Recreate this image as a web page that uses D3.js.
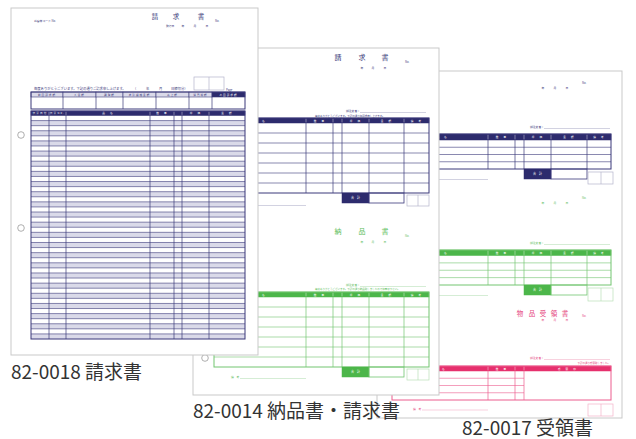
<!DOCTYPE html>
<html>
<head>
<meta charset="utf-8">
<script src="https://cdn.jsdelivr.net/npm/d3@7"></script>
<style>
  body { margin: 0; background: #fff; }
  svg { display: block; }
  text { font-family: "Noto Sans CJK JP", "Noto Sans", sans-serif; }
</style>
</head>
<body>
<div class="box"></div>
<script>
// contenu des formulaires
const labels = ['82-0018 請求書', '82-0014 納品書・請求書', '82-0017 受領書'];
const summaryHeads = ['前回請求額', '入金額', '調整額', '差引繰越金額', '売上額', '消費税額', '今回請求額'];
const detailHeads = ['伝票日付', '伝票No.', '品　名', '数　量', '', '単　価', '金　額'];
const slipHeads = ['品　名', '数　量', '', '単　価', '金　額', '備　考'];
const receiptHeads = ['品　名', '数　量', '', '受　領　印'];
const slipTitles = ['請求書', '納品書', '物品受領書'];
const slipMessages = [
  '毎度ありがとうございます。下記の通り御請求申し上げます。',
  '毎度ありがとうございます。下記の通り納品致しましたので御査収下さい。',
  '下記の通り受領致しました。'
];
const detailRows = 44;
const slipRows = 7;
const copyRows = 4;

const dims = {width: 636, height: 439};

const navy = {head: '#2d2b6d', line: '#3b397a', text: '#3b397a', soft: '#b4b4cc', light: '#dadae9'};
const green = {head: '#4cb64a', line: '#72c570', text: '#5dbd5b', soft: '#b9e0b8'};
const pink = {head: '#e6306d', line: '#ec5c8e', text: '#e5467d', soft: '#f3b3c9'};

const svg = d3.select('.box')
              .append('svg')
              .attr('width', dims.width)
              .attr('height', dims.height);

// petites fonctions de dessin
const txt = (g, x, y, s, size, fill, anchor = 'middle') =>
  g.append('text').attr('x', x).attr('y', y)
   .attr('font-size', size).attr('fill', fill)
   .attr('text-anchor', anchor).text(s);

const line = (g, x1, y1, x2, y2, stroke, w = 0.7) =>
  g.append('line').attr('x1', x1).attr('y1', y1).attr('x2', x2).attr('y2', y2)
   .attr('stroke', stroke).attr('stroke-width', w);

const box = (g, x, y, w, h, fill, stroke, sw = 0.7) =>
  g.append('rect').attr('x', x).attr('y', y).attr('width', w).attr('height', h)
   .attr('fill', fill).attr('stroke', stroke).attr('stroke-width', sw);

// grille d'un tableau
const grid = (g, edges, top, headH, bottom, rows, heads, c, opts = {}) => {
  const left = edges[0], right = edges[edges.length - 1];
  const y = d3.scaleLinear().domain([0, rows]).range([top + headH, bottom]);

  if (opts.shade) {
    g.selectAll(null).data(d3.range(rows).filter(i => i % 2 === 1)).enter()
     .append('rect')
     .attr('x', left).attr('width', right - left)
     .attr('y', d => y(d)).attr('height', d => y(d + 1) - y(d))
     .attr('fill', c.light);
  }

  box(g, left, top, right - left, headH, c.head, c.head, 0.5);

  g.selectAll(null).data(heads).enter()
   .append('text')
   .attr('x', (d, i) => (edges[i] + edges[i + 1]) / 2)
   .attr('y', top + headH / 2 + 1)
   .attr('font-size', 2.6)
   .attr('fill', '#fff')
   .attr('text-anchor', 'middle')
   .attr('letter-spacing', 1.2)
   .text(d => d);

  const rowEnd = opts.openLast ? edges[edges.length - 2] : right;
  g.selectAll(null).data(d3.range(1, rows)).enter()
   .append('line')
   .attr('x1', left).attr('x2', rowEnd)
   .attr('y1', d => y(d)).attr('y2', d => y(d))
   .attr('stroke', c.line).attr('stroke-width', 0.6);

  g.selectAll(null).data(edges.slice(1, -1)).enter()
   .append('line')
   .attr('x1', d => d).attr('x2', d => d)
   .attr('y1', top + headH).attr('y2', bottom)
   .attr('stroke', c.line).attr('stroke-width', 0.7);

  g.selectAll(null).data(edges.slice(1, -1)).enter()
   .append('line')
   .attr('x1', d => d).attr('x2', d => d)
   .attr('y1', top + 0.6).attr('y2', top + headH - 0.6)
   .attr('stroke', '#fff').attr('stroke-width', 0.4);

  box(g, left, top, right - left, bottom - top, 'none', c.line, 1);
};

// un bordereau (en-tête, tableau, total, cachets)
const slip = (g, o, c) => {
  if (o.title) {
    o.title.split('').forEach((ch, i) => txt(g, o.titleX[i], o.titleY, ch, o.titleSize, c.text));
  }
  txt(g, o.noX, o.noY, 'No.', 2.8, c.text, 'start');
  ['年', '月', '日'].forEach((ch, i) => txt(g, o.dateX[i], o.dateY, ch, 2.8, c.text));
  txt(g, o.ordX, o.ordY, '御注文者：', 2.8, c.text, 'start');
  line(g, o.ordX + 14, o.ordY + 0.5, o.ordEnd, o.ordY + 0.5, c.soft, 0.6);
  if (o.msg) txt(g, o.msgX, o.msgY, o.msg, 2.5, c.text, o.msgAnchor || 'start');

  grid(g, o.edges, o.top, o.headH, o.bottom, o.rows, o.heads, c, {openLast: o.openLast});

  if (o.total) {
    const e = o.edges;
    box(g, e[3], o.bottom, e[4] - e[3], 10, c.head, c.head, 0.5);
    txt(g, (e[3] + e[4]) / 2, o.bottom + 6, '合　計', 3, '#fff');
    box(g, e[4], o.bottom, e[5] - e[4], 10, 'none', c.line, 0.8);
  }

  const s = o.stamp;
  box(g, s[0], s[3], s[2] - s[0], s[4] - s[3], 'none', c.soft, 0.7);
  line(g, s[1], s[3], s[1], s[4], c.soft, 0.7);

  // le libellé "備考" est caché derrière la feuille du dessus pour certains
  if (!o.memoHidden) txt(g, o.memoX, o.memoY, '備　考', 2.8, c.text, 'start');
  line(g, o.memoX + 9, o.memoY + 0.5, o.edges[1], o.memoY + 0.5, c.soft, 0.6);
};

const page = (p) => {
  const g = svg.append('g');
  box(g, p.x, p.y, p.w, p.h, '#fff', '#c9c9c9', 1);
  return g;
};

const hole = (g, x, y) =>
  g.append('circle').attr('cx', x).attr('cy', y).attr('r', 3.3)
   .attr('fill', '#fff').attr('stroke', '#8d8d8d').attr('stroke-width', 0.7);

// ---- feuille 82-0017 (arrière)
const g3 = page({x: 377, y: 71, w: 245, h: 347});
const e3 = [396, 488, 515, 524, 551, 587, 611];

slip(g3, {
  noX: 582, noY: 84, dateX: [543, 555, 567], dateY: 89,
  ordX: 530, ordY: 128, ordEnd: 610,
  edges: e3, top: 134, headH: 6, bottom: 169, rows: copyRows, heads: slipHeads,
  total: true, stamp: [588, 601, 613, 172, 184],
  memoX: 413, memoY: 179, memoHidden: true
}, navy);

slip(g3, {
  noX: 582, noY: 199, dateX: [543, 555, 567], dateY: 204,
  ordX: 530, ordY: 244, ordEnd: 610,
  edges: e3, top: 250, headH: 5.5, bottom: 285, rows: copyRows, heads: slipHeads,
  total: true, stamp: [588, 601, 613, 288, 301],
  memoX: 413, memoY: 295, memoHidden: true
}, green);

slip(g3, {
  title: slipTitles[2], titleX: [520, 532, 543, 554, 565], titleY: 316, titleSize: 6.5,
  noX: 582, noY: 316.5, dateX: [543, 555, 567], dateY: 321,
  ordX: 530, ordY: 359, ordEnd: 610,
  msg: slipMessages[2], msgX: 610, msgY: 363.5, msgAnchor: 'end',
  edges: [392, 488, 515, 524, 611], top: 366, headH: 5, bottom: 400, rows: copyRows,
  heads: receiptHeads, openLast: true,
  total: false, stamp: [588, 601, 613, 404, 416],
  memoX: 413, memoY: 409.5
}, pink);

// ---- feuille 82-0014 (milieu)
const g2 = page({x: 193, y: 48, w: 246, h: 347});
const e2 = [214, 306, 333, 342, 369, 404, 429];

slip(g2, {
  title: slipTitles[0], titleX: [338, 362, 385], titleY: 60, titleSize: 7,
  noX: 405, noY: 63, dateX: [362, 373, 385], dateY: 69,
  ordX: 346, ordY: 112, ordEnd: 426,
  msg: slipMessages[0], msgX: 315, msgY: 116.5,
  edges: e2, top: 118, headH: 5, bottom: 193, rows: slipRows, heads: slipHeads,
  total: true, stamp: [407, 418, 429, 195, 206],
  memoX: 231, memoY: 205
}, navy);

slip(g2, {
  title: slipTitles[1], titleX: [338, 362, 385], titleY: 234, titleSize: 7,
  noX: 405, noY: 237, dateX: [362, 373, 385], dateY: 243,
  ordX: 346, ordY: 286, ordEnd: 426,
  msg: slipMessages[1], msgX: 315, msgY: 290.3,
  edges: e2, top: 292, headH: 5, bottom: 367, rows: slipRows, heads: slipHeads,
  total: true, stamp: [407, 418, 429, 369, 380],
  memoX: 231, memoY: 378
}, green);

hole(g2, 205, 264);
hole(g2, 205, 358);

// ---- feuille 82-0018 (avant)
const g1 = page({x: 11, y: 8, w: 247, h: 347});

txt(g1, 34, 22, 'お客様コード No.', 2.8, navy.text, 'start');
slipTitles[0].split('').forEach((ch, i) => txt(g1, [155, 176, 201][i], 18.5, ch, 6.5, navy.text));
txt(g1, 215, 22, 'No.', 2.8, navy.text, 'start');
txt(g1, 166, 27, '発行日', 2.8, navy.text, 'start');
['年', '月', '日'].forEach((ch, i) => txt(g1, [183, 195, 207][i], 27, ch, 2.8, navy.text));

box(g1, 194, 77, 30, 13, 'none', navy.soft, 0.7);
line(g1, 209, 77, 209, 90, navy.soft, 0.7);
txt(g1, 226, 91, 'Page', 2.8, navy.text, 'start');

txt(g1, 34, 90, '毎度ありがとうございます。下記の通りご請求申し上げます。', 3.3, navy.text, 'start');
txt(g1, 133, 90, '（', 3.3, navy.text, 'start');
txt(g1, 146, 90, '年', 3.3, navy.text, 'start');
txt(g1, 159, 90, '月', 3.3, navy.text, 'start');
txt(g1, 171, 90, '日締切分）', 3.3, navy.text, 'start');

// tableau récapitulatif
const eS = [31, 63, 96, 123, 156, 189, 212, 245];
g1.selectAll(null).data(summaryHeads).enter()
  .append('rect')
  .attr('x', (d, i) => eS[i]).attr('y', 92)
  .attr('width', (d, i) => eS[i + 1] - eS[i]).attr('height', 5)
  .attr('fill', (d, i) => i === summaryHeads.length - 1 ? navy.head : navy.light)
  .attr('stroke', navy.line).attr('stroke-width', 0.6);
g1.selectAll(null).data(summaryHeads).enter()
  .append('text')
  .attr('x', (d, i) => (eS[i] + eS[i + 1]) / 2).attr('y', 95.6)
  .attr('font-size', 2.6).attr('letter-spacing', 1)
  .attr('text-anchor', 'middle')
  .attr('fill', (d, i) => i === summaryHeads.length - 1 ? '#fff' : navy.text)
  .text(d => d);
g1.selectAll(null).data(eS.slice(1, -1)).enter()
  .append('line')
  .attr('x1', d => d).attr('x2', d => d).attr('y1', 97).attr('y2', 109)
  .attr('stroke', navy.line).attr('stroke-width', 0.7);
box(g1, 31, 92, 214, 17, 'none', navy.line, 1);

// tableau de détail
grid(g1, [31, 49, 66, 150, 174, 182, 209, 245], 111, 4.5, 339, detailRows, detailHeads, navy, {shade: true});

hole(g1, 21, 135);
hole(g1, 21, 228);

// légendes
const legend = svg.append('g');
legend.selectAll('text')
      .data(labels)
      .enter()
      .append('text')
      .attr('x', (d, i) => [11, 193, 462][i])
      .attr('y', (d, i) => [379, 418, 435][i])
      .attr('font-size', 19)
      .attr('fill', '#333')
      .text(d => d);
</script>
</body>
</html>
